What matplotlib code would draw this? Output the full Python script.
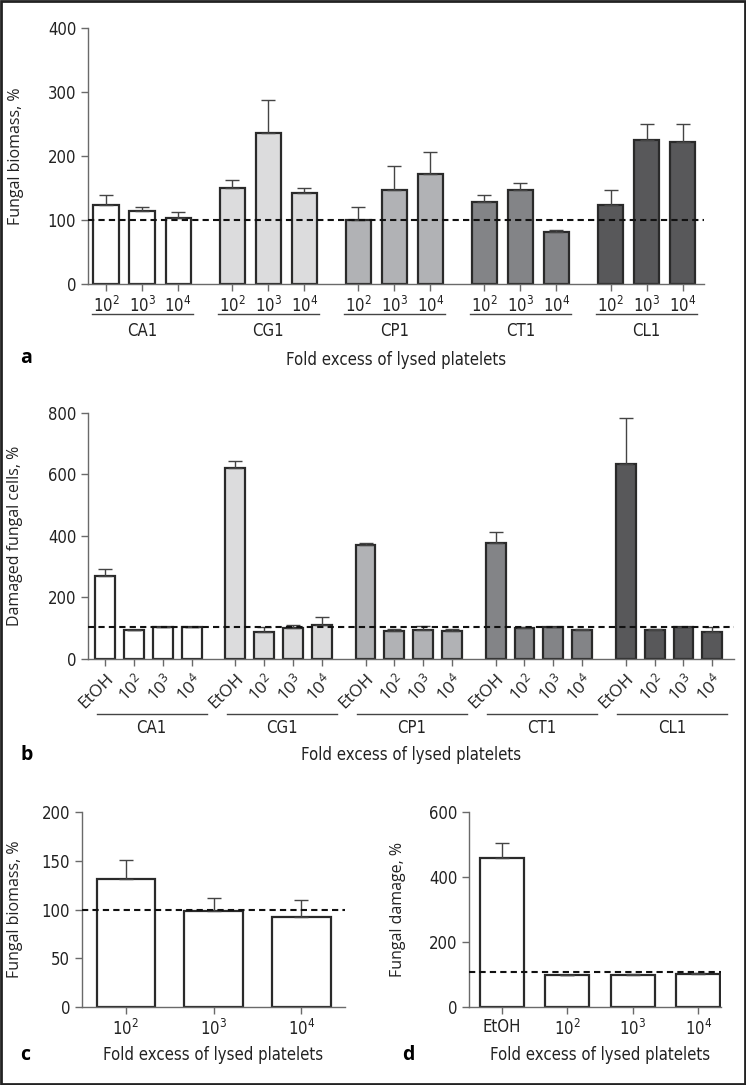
import matplotlib
matplotlib.use('Agg')
import matplotlib.pyplot as plt
from matplotlib.patches import Rectangle
import numpy as np

plt.rcParams['font.family'] = ['DejaVu Sans']
plt.rcParams['font.stretch'] = 'condensed'
plt.rcParams['mathtext.default'] = 'regular'

strains = ['CA1', 'CG1', 'CP1', 'CT1', 'CL1']
strain_colors = ['#ffffff', '#dcdcdd', '#b1b2b5', '#838487', '#58585a']
doses = ['10$^{2}$', '10$^{3}$', '10$^{4}$']
doses_etoh = ['EtOH', '10$^{2}$', '10$^{3}$', '10$^{4}$']

# panel a: fungal biomass per strain (mean, upper SD)
biomass_mean = [[124, 114.6, 103.6], [151, 236, 142.7], [101, 148, 172],
                [128, 148, 81], [124, 225, 222]]
biomass_err = [[16, 6.4, 9], [12, 52, 8], [19, 36, 35], [12, 10, 4], [24, 25, 29]]

# panel b: damaged fungal cells per strain
damage_mean = [[270, 93, 103, 103], [622, 89, 100, 109], [370, 91, 95, 91],
               [377, 102, 104, 93], [635, 95, 104, 88]]
damage_err = [[22, 0, 1, 2], [22, 14, 9, 29], [8, 6, 11, 8], [35, 1, 0, 4], [148, 2, 0, 15]]

# panel c / d
c_mean = [131, 99, 92]
c_err = [20, 13, 18]
d_mean = [458, 97, 99, 101]
d_err = [49, 1, 1, 3]

ref_a, ref_b, ref_c, ref_d = 100, 105, 100, 107

edge = '#2a2a2a'
spine_col = '#6a6a6a'
txt = '#222222'
xlab = 'Fold excess of lysed platelets'
open_sans = ['Open Sans', 'DejaVu Sans']
ylab_font = dict(fontsize=11.5, family=open_sans, fontstretch='normal', color=txt)
fs = 12


def style_axes(ax):
    for s in ['top', 'right']:
        ax.spines[s].set_visible(False)
    for s in ['left', 'bottom']:
        ax.spines[s].set_color(spine_col)
        ax.spines[s].set_linewidth(1.0)
    ax.tick_params(axis='both', colors=spine_col, labelcolor=txt, labelsize=fs,
                   length=5, width=1.0, direction='out')


def draw_bars(ax, x, means, errs, color, width):
    ax.bar(x, means, width=width, color=color, edgecolor=edge, linewidth=1.6, zorder=2)
    ax.errorbar(x, means, yerr=[np.zeros(len(errs)), errs], fmt='none',
                ecolor='#444444', elinewidth=1.0, capsize=5, capthick=1.0, zorder=3)


def letter(x, y, s):
    fig.text(x / 746, 1 - y / 1085, s, fontsize=14, fontweight='bold', va='center',
             family=open_sans, fontstretch='normal')


fig = plt.figure(figsize=(7.46, 10.85), dpi=100)

# ---- panel a ----
ax = fig.add_axes([0.118, 0.738, 0.826, 0.236])
style_axes(ax)
xt, xl = [], []
for g, s in enumerate(strains):
    x = g * 3.5 + np.arange(3)
    draw_bars(ax, x, biomass_mean[g], biomass_err[g], strain_colors[g], 0.7)
    xt += list(x)
    xl += doses
    ax.plot([x[0] - 0.4, x[-1] + 0.4], [-0.117, -0.117], color='#444444', lw=1.0,
            transform=ax.get_xaxis_transform(), clip_on=False)
    ax.text(x[1], -0.182, s, transform=ax.get_xaxis_transform(), ha='center', va='center',
            fontsize=fs, color=txt)
ax.axhline(ref_a, color='#111111', lw=1.5, dashes=(3, 2), zorder=4)
ax.set_xticks(xt)
ax.set_xticklabels(xl)
ax.set_xlim(-0.5, 16.6)
ax.set_ylim(0, 400)
ax.set_yticks([0, 100, 200, 300, 400])
ax.set_ylabel('Fungal biomass, %', **ylab_font)
ax.yaxis.set_label_coords(-0.104, 0.5)
ax.text(0.5, -0.297, xlab, transform=ax.transAxes, ha='center', va='center', fontsize=fs, color=txt)
letter(20, 358, 'a')

# ---- panel b ----
ax = fig.add_axes([0.118, 0.3926, 0.866, 0.227])
style_axes(ax)
xt, xl = [], []
for g, s in enumerate(strains):
    x = g * 4.5 + np.arange(4)
    draw_bars(ax, x, damage_mean[g], damage_err[g], strain_colors[g], 0.69)
    xt += list(x)
    xl += doses_etoh
    ax.plot([x[0] - 0.3, x[-1] + 0.5], [-0.224, -0.224], color='#444444', lw=1.0,
            transform=ax.get_xaxis_transform(), clip_on=False)
    ax.text(x[1] + 0.6, -0.28, s, transform=ax.get_xaxis_transform(), ha='center', va='center',
            fontsize=fs, color=txt)
ax.axhline(ref_b, color='#111111', lw=1.5, dashes=(3, 2), zorder=4)
ax.set_xticks(xt)
ax.set_xticklabels(xl, rotation=45, ha='right', rotation_mode='anchor',
                   family=open_sans, fontstretch='normal', fontsize=12.5)
ax.set_xlim(-0.6, 21.75)
ax.set_ylim(0, 800)
ax.set_yticks([0, 200, 400, 600, 800])
ax.set_ylabel('Damaged fungal cells, %', **ylab_font)
ax.yaxis.set_label_coords(-0.1, 0.5)
ax.text(0.5, -0.39, xlab, transform=ax.transAxes, ha='center', va='center', fontsize=fs, color=txt)
letter(20, 755, 'b')

# ---- panel c ----
ax = fig.add_axes([0.110, 0.0722, 0.3525, 0.179])
style_axes(ax)
x = np.arange(3)
draw_bars(ax, x, c_mean, c_err, '#ffffff', 0.67)
ax.axhline(ref_c, color='#111111', lw=1.5, dashes=(3, 2), zorder=4)
ax.set_xticks(x)
ax.set_xticklabels(doses)
ax.set_xlim(-0.5, 2.5)
ax.set_ylim(0, 200)
ax.set_yticks([0, 50, 100, 150, 200])
ax.set_ylabel('Fungal biomass, %', **ylab_font)
ax.yaxis.set_label_coords(-0.224, 0.5)
ax.text(0.5, -0.249, xlab, transform=ax.transAxes, ha='center', va='center', fontsize=fs, color=txt)
letter(20, 1055, 'c')

# ---- panel d ----
ax = fig.add_axes([0.6287, 0.0722, 0.338, 0.179])
style_axes(ax)
x = np.arange(4)
draw_bars(ax, x, d_mean, d_err, '#ffffff', 0.67)
ax.axhline(ref_d, color='#111111', lw=1.5, dashes=(3, 2), zorder=4)
ax.set_xticks(x)
ax.set_xticklabels(doses_etoh)
ax.set_xlim(-0.5, 3.35)
ax.set_ylim(0, 600)
ax.set_yticks([0, 200, 400, 600])
ax.set_ylabel('Fungal damage, %', **ylab_font)
ax.yaxis.set_label_coords(-0.25, 0.5)
ax.text(0.52, -0.249, xlab, transform=ax.transAxes, ha='center', va='center', fontsize=fs, color=txt)
letter(402, 1055, 'd')

# outer frame
fig.patches.append(Rectangle((0.001, 0.001), 0.998, 0.998, transform=fig.transFigure,
                             fill=False, edgecolor='#222222', linewidth=2))

fig.savefig('out.png', dpi=100)
